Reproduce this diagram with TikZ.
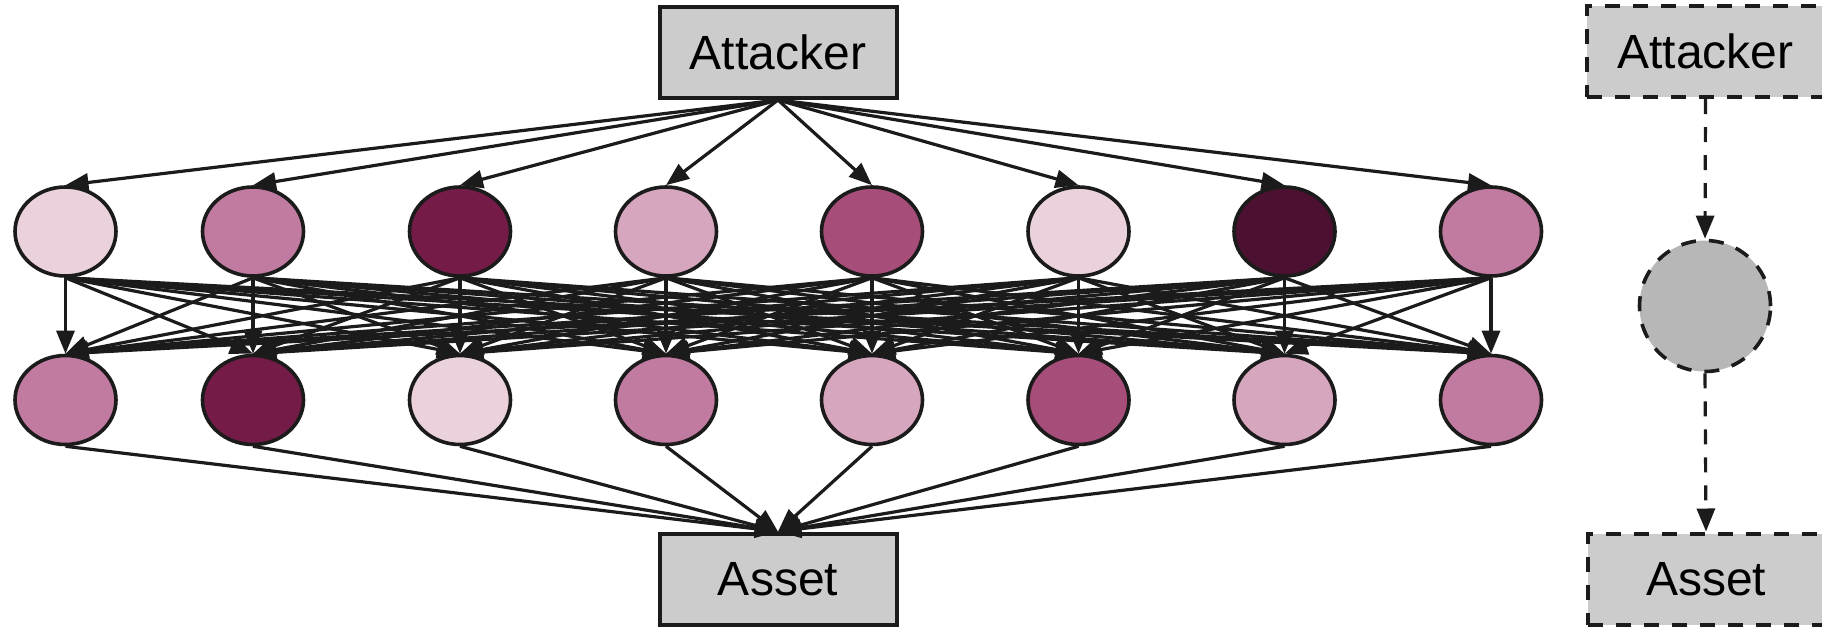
\documentclass[tikz,border=0pt]{standalone}
\usepackage{fontspec}
\setmainfont{Liberation Sans}
\usetikzlibrary{arrows.meta,shapes.geometric}

% palette
\definecolor{ink}{HTML}{1B1B1B}
\definecolor{boxgray}{HTML}{CCCCCC}
\definecolor{hidgray}{HTML}{B7B7B7}
\definecolor{mgA}{HTML}{EAD1DC}
\definecolor{mgB}{HTML}{D5A6BD}
\definecolor{mgC}{HTML}{C27BA0}
\definecolor{mgD}{HTML}{A64D79}
\definecolor{mgE}{HTML}{741B47}
\definecolor{mgF}{HTML}{4C1130}

\begin{document}
\begin{tikzpicture}[x=1pt,y=-1pt,
  link/.style={draw=ink, line width=3.2pt, -{Triangle[length=23pt,width=18pt]}},
  dlink/.style={link, dash pattern=on 15pt off 13pt},
  boxnode/.style={rectangle, draw=ink, fill=boxgray, line width=4pt,
    minimum width=237pt, minimum height=91pt, inner sep=0pt,
    font=\fontsize{48}{58}\selectfont},
  dboxnode/.style={boxnode, dash pattern=on 15pt off 13pt},
  unit/.style={ellipse, draw=ink, line width=3.6pt,
    minimum width=101pt, minimum height=89pt, inner sep=0pt},
  hidden/.style={circle, draw=ink, fill=hidgray, line width=3.6pt,
    minimum size=131pt, inner sep=0pt, dash pattern=on 15pt off 13pt},
]
\useasboundingbox (0,0) rectangle (1822,627);

% full network
\node[boxnode] (att) at (778,52.5) {Attacker};
\node[boxnode] (asset) at (778,579) {Asset};

\foreach \x/\c [count=\i] in {65.5/mgA,253/mgC,460/mgE,666/mgB,872/mgD,1078.5/mgA,1284.5/mgF,1491/mgC}
  \node[unit, fill=\c] (t\i) at (\x,231.5) {};

\foreach \x/\c [count=\i] in {65.5/mgC,253/mgE,460/mgA,666/mgC,872/mgB,1078.5/mgD,1284.5/mgB,1491/mgC}
  \node[unit, fill=\c] (b\i) at (\x,400) {};

\foreach \i in {1,...,8} {
  \draw[link] (att.south) -- (t\i.north);
  \draw[link] (b\i.south) -- (asset.north);
  \foreach \j in {1,...,8}
    \draw[link] (t\i.south) -- (b\j.north);
}

% collapsed chain
\node[dboxnode] (datt) at (1705.5,51.5) {Attacker};
\node[hidden] (hid) at (1705,306) {};
\node[dboxnode] (dasset) at (1706,579) {Asset};
\draw[dlink] (datt.south) -- (hid.north);
\draw[dlink] (hid.south) -- (dasset.north);
\end{tikzpicture}
\end{document}
